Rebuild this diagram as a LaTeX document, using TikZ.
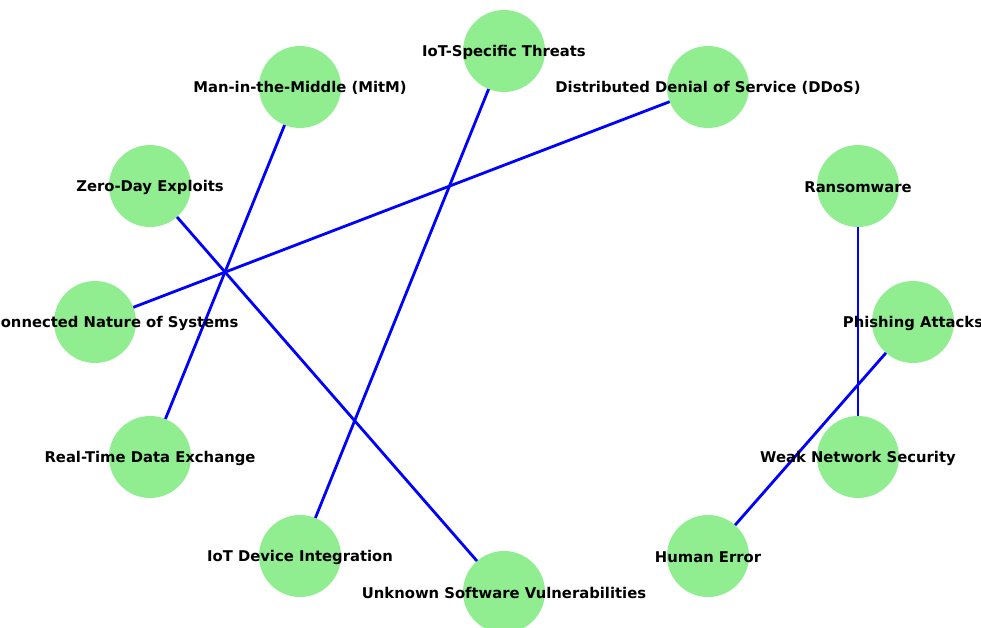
\documentclass[tikz,border=0pt]{standalone}
\usepackage{fontspec}
\setmainfont{DejaVu Sans}
\usetikzlibrary{backgrounds}
\begin{document}
\begin{tikzpicture}[x=1pt, y=-1pt, line join=round, line cap=round]
	\definecolor{threatgreen}{HTML}{90EE90}
	\definecolor{linkblue}{HTML}{0000FF}
	\tikzset{threat/.style={circle, fill=threatgreen, draw=none, minimum size=82pt, inner sep=0pt},
		tag/.style={font=\fontsize{14.8}{16}\selectfont\bfseries, inner sep=0pt, text=black, yshift=-1pt},
		link/.style={draw=linkblue, line width=2.8pt}}
	\useasboundingbox (0,0) rectangle (981,628);
	\clip (0,0) rectangle (981,628);
	% circles
	\node[threat] (iot) at (504,51) {};
	\node[threat] (mitm) at (300,87) {};
	\node[threat] (ddos) at (708,87) {};
	\node[threat] (zero) at (150,186) {};
	\node[threat] (ransom) at (858,186) {};
	\node[threat] (inter) at (95,322) {};
	\node[threat] (phish) at (913,322) {};
	\node[threat] (realtime) at (150,457) {};
	\node[threat] (weak) at (858,457) {};
	\node[threat] (device) at (300,556) {};
	\node[threat] (human) at (708,556) {};
	\node[threat] (unknown) at (504,592) {};
	% links
	\begin{scope}[on background layer]
		\draw[link] (mitm.center) -- (realtime.center);
		\draw[link] (iot.center) -- (device.center);
		\draw[link] (ddos.center) -- (inter.center);
		\draw[link] (zero.center) -- (unknown.center);
		\draw[link] (ransom.center) -- (weak.center);
		\draw[link] (phish.center) -- (human.center);
	\end{scope}
	% labels
	\foreach \n/\t in {iot/IoT-Specific Threats, mitm/Man-in-the-Middle (MitM), ddos/Distributed Denial of Service (DDoS), zero/Zero-Day Exploits, ransom/Ransomware, inter/Interconnected Nature of Systems, phish/Phishing Attacks, realtime/Real-Time Data Exchange, weak/Weak Network Security, device/IoT Device Integration, human/Human Error, unknown/Unknown Software Vulnerabilities}
	\node[tag] at (\n) {\t};
\end{tikzpicture}
\end{document}
